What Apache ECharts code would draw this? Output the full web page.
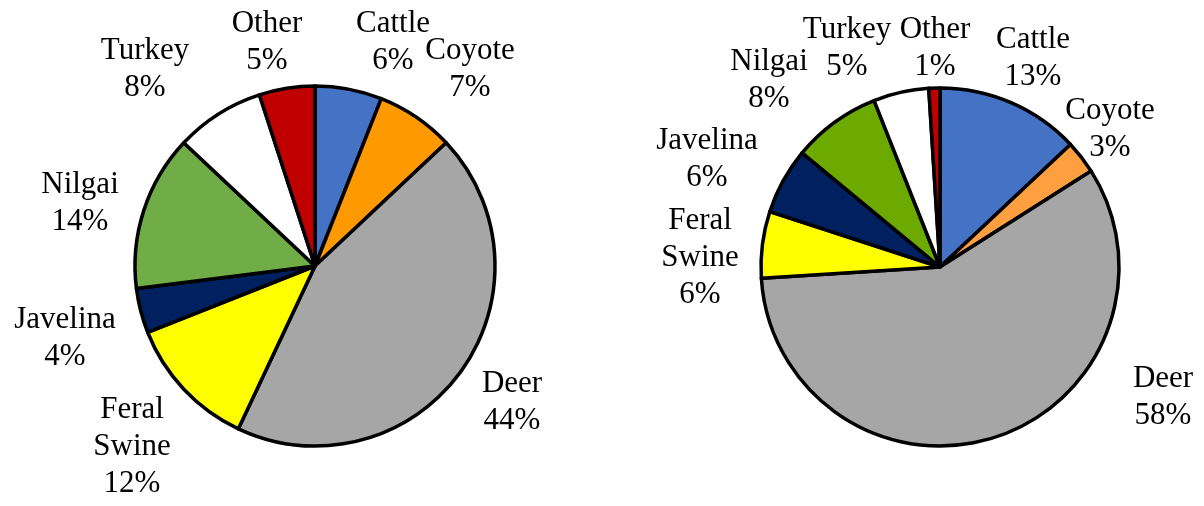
<!DOCTYPE html>
<html>
<head>
<meta charset="utf-8">
<script src="https://cdn.jsdelivr.net/npm/echarts@6/dist/echarts.min.js"></script>
<style>
  html, body { margin: 0; padding: 0; background: #fff; }
  #chart { width: 1204px; height: 506px; }
</style>
</head>
<body>
<div id="chart"></div>
<script>
// Species shares (percent), listed clockwise from 12 o'clock
const categories = ['Cattle', 'Coyote', 'Deer', 'Feral Swine', 'Javelina', 'Nilgai', 'Turkey', 'Other'];
const labelNames = ['Cattle', 'Coyote', 'Deer', 'Feral\nSwine', 'Javelina', 'Nilgai', 'Turkey', 'Other'];
const leftValues = [6, 7, 44, 12, 4, 14, 8, 5];
const rightValues = [13, 3, 58, 6, 6, 8, 5, 1];

// Slice fills
const leftColors = ['#4472C4', '#FF9900', '#A6A6A6', '#FFFF00', '#002060', '#70AD47', '#FFFFFF', '#C00000'];
const rightColors = ['#4472C4', '#FF9F40', '#A6A6A6', '#FFFF00', '#002060', '#6CAA00', '#FFFFFF', '#C00000'];

// Pie geometry (pixels)
const leftCenter = [315, 266], leftRadius = 180;
const rightCenter = [940, 267], rightRadius = 179;

// Label block centres, as offsets from each pie's centre
const leftLabelOffsets = [[78, -224], [155, -197], [197, 136], [-183, 181], [-250, 72], [-235, -63], [-170, -197], [-48, -224]];
const rightLabelOffsets = [[93, -209], [170, -138], [223, 130], [-240, -9], [-233, -108], [-171, -187], [-93, -219], [-5, -219]];

function buildSeries(values, colors, center, radius, offsets) {
  return {
    type: 'pie',
    center: center,
    radius: radius,
    startAngle: 90,
    clockwise: true,
    avoidLabelOverlap: false,
    silent: true,
    data: categories.map((name, i) => ({
      name: name,
      value: values[i],
      itemStyle: { color: colors[i] },
      label: { formatter: labelNames[i] + '\n' + values[i] + '%' }
    })),
    itemStyle: { borderColor: '#000', borderWidth: 3.5 },
    label: {
      show: true,
      position: 'inside',
      color: '#000',
      fontFamily: 'Liberation Serif',
      fontSize: 31,
      lineHeight: 37,
      align: 'center'
    },
    labelLine: { show: false },
    labelLayout: function (p) {
      const o = offsets[p.dataIndex];
      return { x: center[0] + o[0], y: center[1] + o[1], align: 'center', verticalAlign: 'middle' };
    },
    emphasis: { disabled: true }
  };
}

const chart = echarts.init(document.getElementById('chart'), null, { renderer: 'canvas' });
chart.setOption({
  animation: false,
  backgroundColor: '#fff',
  series: [
    buildSeries(leftValues, leftColors, leftCenter, leftRadius, leftLabelOffsets),
    buildSeries(rightValues, rightColors, rightCenter, rightRadius, rightLabelOffsets)
  ]
});
</script>
</body>
</html>
